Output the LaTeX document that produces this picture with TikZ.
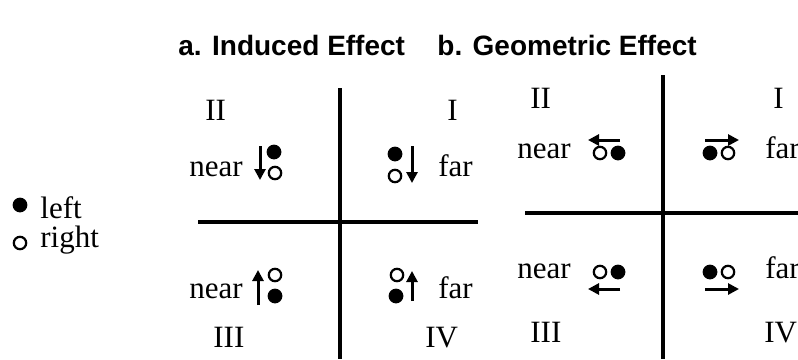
\documentclass[tikz,border=0pt]{standalone}
\usepackage{fontspec}
\setmainfont{Liberation Serif}
\setsansfont{Liberation Sans}
\usetikzlibrary{arrows.meta, positioning}

\begin{document}
\begin{tikzpicture}[x=0.5pt, y=-0.5pt, >=Triangle,
    every node/.style={inner sep=0pt},
    txt/.style={anchor=base west, font=\fontsize{15.5}{18}\selectfont},
    ttl/.style={anchor=base west, font=\sffamily\bfseries\fontsize{14}{17}\selectfont},
    dotL/.style={circle, fill=black, minimum size=7.4pt},
    dotR/.style={circle, draw=black, line width=1.1pt, minimum size=6.2pt},
    mv/.style={-{Triangle[length=5.5pt,width=5.5pt]}, line width=1.5pt},
    axis/.style={line width=1.6pt}]
    \useasboundingbox (0,0) rectangle (798,359);

    % Titles
    \node (Ta) [ttl] at (178,55) {a. Induced Effect};
    \node (Tb) [ttl] at (437,55) {b. Geometric Effect};

    % Legend
    \node (KL) [dotL] at (20,205) {};
    \node (KLt) [txt] at (40,218) {left};
    \node (KR) [dotR] at (20,243) {};
    \node (KRt) [txt] at (40,247) {right};

    % Panel a: axes
    \coordinate (aT) at (340,88);
    \coordinate (aB) at (340,359);
    \coordinate (aL) at (198,222);
    \coordinate (aR) at (478,222);
    \draw [axis] (aT) -- (aB);
    \draw [axis] (aL) -- (aR);

    % Panel a: quadrant labels
    \node (aII) [txt] at (205,120) {II};
    \node (aI) [txt] at (447,120) {I};
    \node (aIII) [txt] at (213,347) {III};
    \node (aIV) [txt] at (425,347) {IV};
    \node (aN2) [txt] at (189,176) {near};
    \node (aF1) [txt] at (438,176) {far};
    \node (aN3) [txt] at (189,298) {near};
    \node (aF4) [txt] at (438,298) {far};

    % Panel a: pairs
    \node (a2L) [dotL] at (274,152) {};
    \node (a2R) [dotR] at (275,173) {};
    \node (a1L) [dotL] at (395,154) {};
    \node (a1R) [dotR] at (395,176) {};
    \node (a3R) [dotR] at (275,275) {};
    \node (a3L) [dotL] at (275,296) {};
    \node (a4R) [dotR] at (397,275) {};
    \node (a4L) [dotL] at (396,296) {};
    \coordinate (a2s) at (260,146);
    \coordinate (a2e) at (260,180);
    \coordinate (a1s) at (412,146);
    \coordinate (a1e) at (412,183);
    \coordinate (a3s) at (258,305);
    \coordinate (a3e) at (258,270);
    \coordinate (a4s) at (412,301);
    \coordinate (a4e) at (412,271);

    % Panel b: axes
    \coordinate (bT) at (663,75);
    \coordinate (bB) at (663,359);
    \coordinate (bL) at (525,213);
    \coordinate (bR) at (798,213);
    \draw [axis] (bT) -- (bB);
    \draw [axis] (bL) -- (bR);

    % Panel b: quadrant labels
    \node (bII) [txt] at (530,108) {II};
    \node (bI) [txt] at (773,108) {I};
    \node (bIII) [txt] at (530,342) {III};
    \node (bIV) [txt] at (764,342) {IV};
    \node (bN2) [txt] at (517,158) {near};
    \node (bF1) [txt] at (765,158) {far};
    \node (bN3) [txt] at (517,278) {near};
    \node (bF4) [txt] at (765,278) {far};

    % Panel b: pairs
    \node (b2R) [dotR] at (600,153) {};
    \node (b2L) [dotL] at (618,153) {};
    \node (b1L) [dotL] at (710,153) {};
    \node (b1R) [dotR] at (728,153) {};
    \node (b3R) [dotR] at (600,272) {};
    \node (b3L) [dotL] at (618,272) {};
    \node (b4L) [dotL] at (710,272) {};
    \node (b4R) [dotR] at (728,272) {};
    \coordinate (b2s) at (620,140);
    \coordinate (b2e) at (588,140);
    \coordinate (b1s) at (705,140);
    \coordinate (b1e) at (739,140);
    \coordinate (b3s) at (620,289);
    \coordinate (b3e) at (588,289);
    \coordinate (b4s) at (705,289);
    \coordinate (b4e) at (739,289);

    % Arrows
    \draw [mv] (a2s) -- (a2e);
    \draw [mv] (a1s) -- (a1e);
    \draw [mv] (a3s) -- (a3e);
    \draw [mv] (a4s) -- (a4e);
    \draw [mv] (b2s) -- (b2e);
    \draw [mv] (b1s) -- (b1e);
    \draw [mv] (b3s) -- (b3e);
    \draw [mv] (b4s) -- (b4e);
\end{tikzpicture}
\end{document}
